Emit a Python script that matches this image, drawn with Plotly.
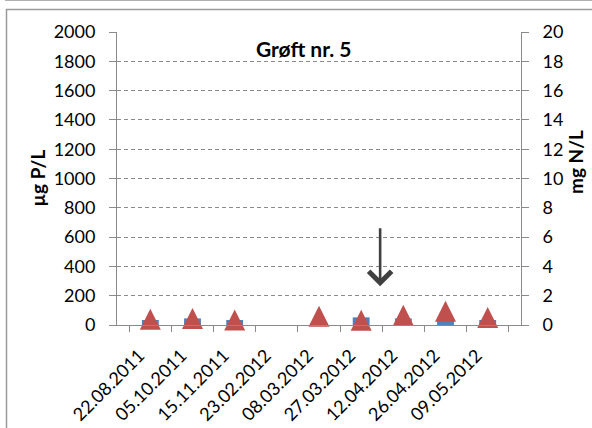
import plotly.graph_objects as go

categories = ["22.08.2011", "05.10.2011", "15.11.2011", "23.02.2012", "08.03.2012",
              "27.03.2012", "12.04.2012", "26.04.2012", "09.05.2012"]
p_values = [34, 45, 34, None, 10, 52, 45, 45, 34]          # µg P/L (left axis)
n_values = [0.39, 0.44, 0.34, None, 0.59, 0.32, 0.66, 0.94, 0.51]  # mg N/L (right axis)
left_ticks = list(range(0, 2001, 200))
right_ticks = list(range(0, 21, 2))
arrow_pos = 5.45
arrow_top, arrow_tip = 6.7, 2.65

W, H = 592, 428
L, R, T, B = 117, 521, 32, 325
pw, ph = R - L, B - T

def px(x):
    return (x - L) / pw

def py(y):
    return (B - y) / ph

FONT = "Lato"
GRID = "#8a8a8a"
DASH = "4px,3px"
TICKSIZE = 18

fig = go.Figure()
fig.add_trace(go.Bar(x=categories, y=p_values, marker=dict(color="#4F81BD", line=dict(width=0)),
                     yaxis="y", showlegend=False))
fig.add_trace(go.Scatter(x=categories, y=n_values, mode="markers", yaxis="y2",
                         marker=dict(symbol="arrow-down", angle=180, size=21, standoff=10.5,
                                     color="#C0504D", line=dict(width=0)),
                         cliponaxis=False, showlegend=False))

fig.update_layout(
    width=W, height=H, autosize=False,
    margin=dict(l=L, r=W - R, t=T, b=H - B, pad=0),
    paper_bgcolor="white", plot_bgcolor="white",
    bargap=0.6,
    font=dict(family=FONT, size=TICKSIZE, color="black"),
    xaxis=dict(type="category", categoryorder="array", categoryarray=categories,
               tickangle=-45, tickson="boundaries", ticks="outside", ticklen=6,
               tickcolor=GRID, showline=True, linecolor=GRID, linewidth=1,
               showgrid=False, automargin=False, ticklabelstandoff=12,
               ticklabelshift=-11,
               tickfont=dict(family=FONT, size=TICKSIZE)),
    yaxis=dict(range=[0, 2000], tickvals=left_ticks, ticks="outside", ticklen=7,
               tickcolor=GRID, showline=True, linecolor=GRID, linewidth=1,
               showgrid=True, gridcolor=GRID, griddash=DASH, gridwidth=1,
               zeroline=False, automargin=False, ticklabelstandoff=10,
               tickfont=dict(family=FONT, size=TICKSIZE)),
    yaxis2=dict(range=[0, 20], tickvals=right_ticks, overlaying="y", side="right",
                ticks="outside", ticklen=7, tickcolor=GRID, showline=True,
                linecolor=GRID, linewidth=1, showgrid=False, zeroline=False,
                automargin=False, ticklabelstandoff=10,
                tickfont=dict(family=FONT, size=TICKSIZE)),
)

fig.add_annotation(x=px(304), y=py(48), xref="paper", yref="paper", showarrow=False,
                   xanchor="center", yanchor="middle",
                   text="<b>Grøft nr. 5</b>", font=dict(family=FONT, size=21, color="black"))
fig.add_annotation(x=px(36.5), y=py(178), xref="paper", yref="paper", showarrow=False,
                   xanchor="center", yanchor="middle",
                   text="<b>µg P/L</b>", textangle=-90, font=dict(family=FONT, size=19, color="black"))
fig.add_annotation(x=px(575), y=py(162), xref="paper", yref="paper", showarrow=False,
                   xanchor="center", yanchor="middle",
                   text="<b>mg N/L</b>", textangle=-90, font=dict(family=FONT, size=19, color="black"))

fig.add_annotation(x=arrow_pos, y=arrow_tip, xref="x", yref="y2",
                   ax=arrow_pos, ay=arrow_top, axref="x", ayref="y2",
                   showarrow=True, arrowhead=4, arrowsize=1.7, arrowwidth=2.6,
                   arrowcolor="#404040", text="")

# outer chart frame
fig.add_shape(type="rect", xref="paper", yref="paper",
              x0=px(6.5), x1=px(W + 20), y0=py(H + 20), y1=py(9.5),
              line=dict(color="#9a9a9a", width=1.5), fillcolor="rgba(0,0,0,0)", layer="below")
fig.add_shape(type="line", xref="paper", yref="paper",
              x0=px(5), x1=px(W + 5), y0=py(0.5), y1=py(0.5),
              line=dict(color="#b0b0b0", width=1.2))

fig.write_html("out.html")
